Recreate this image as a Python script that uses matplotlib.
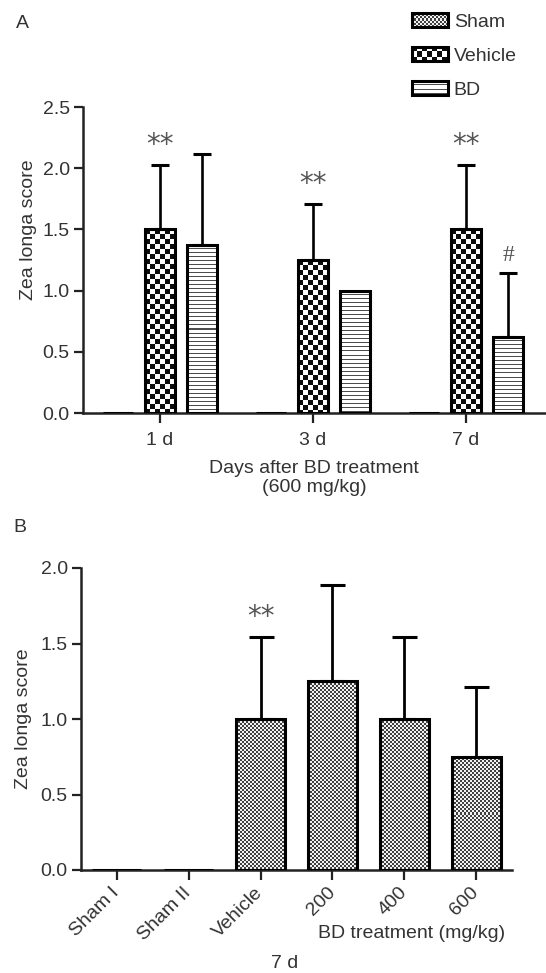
import numpy as np
import matplotlib
matplotlib.use("Agg")
import matplotlib.pyplot as plt
from matplotlib.patches import Patch, Rectangle
from matplotlib.legend_handler import HandlerBase
from matplotlib.image import BboxImage
from matplotlib.colors import Normalize
from matplotlib.transforms import Bbox, TransformedBbox

# ---- data (panel A) ----
days = ["1 d", "3 d", "7 d"]
groups_a = ["Sham", "Vehicle", "BD"]
sham_a = [0.0, 0.0, 0.0]
vehicle_a = [1.5, 1.25, 1.5]
vehicle_a_sd = [0.53, 0.46, 0.53]
bd_a = [1.375, 1.0, 0.625]
bd_a_sd = [0.74, 0.0, 0.52]

# ---- data (panel B, 7 d) ----
labels_b = ["Sham I", "Sham II", "Vehicle", "200", "400", "600"]
scores_b = [0.0, 0.0, 1.0, 1.25, 1.0, 0.75]
scores_b_sd = [0.0, 0.0, 0.54, 0.64, 0.54, 0.46]

plt.rcParams['font.family'] = ['Liberation Sans', 'DejaVu Sans']
plt.rcParams['font.size'] = 14
plt.rcParams['text.color'] = '#333333'
plt.rcParams['axes.labelcolor'] = '#333333'
plt.rcParams['xtick.color'] = '#222222'
plt.rcParams['ytick.color'] = '#222222'
plt.rcParams['xtick.labelcolor'] = '#333333'
plt.rcParams['ytick.labelcolor'] = '#333333'

W, H = 546, 973
DPI = 100
fig = plt.figure(figsize=(W / DPI, H / DPI), dpi=DPI)


def texture(kind, h, w):
    h, w = max(int(round(h)), 1), max(int(round(w)), 1)
    yy, xx = np.mgrid[0:h, 0:w]
    if kind == "fine":
        c = ((yy // 2 + xx // 2) % 2).astype(float)
        return np.where(c > 0, 0.95, 0.25)
    if kind == "coarse":
        c = ((yy // 5 + xx // 5) % 2).astype(float)
        return np.where(c > 0, 1.0, 0.05)
    # horizontal lines
    return np.where(yy % 4 == 0, 0.3, 1.0)


def fill_bars(ax, bars, kind):
    # paint the texture inside each bar (bars keep the black outline on top)
    for b in bars:
        x0, y0 = b.get_x(), b.get_y()
        x1, y1 = x0 + b.get_width(), y0 + b.get_height()
        if y1 <= y0:
            continue
        p0 = ax.transData.transform((x0, y0))
        p1 = ax.transData.transform((x1, y1))
        img = texture(kind, p1[1] - p0[1], p1[0] - p0[0])
        ax.imshow(img, cmap='gray', norm=Normalize(0, 1), extent=(x0, x1, y0, y1),
                  interpolation='nearest', aspect='auto', zorder=2)


class HandlerTexture(HandlerBase):
    def __init__(self, kind):
        super().__init__()
        self.kind = kind

    def create_artists(self, legend, orig_handle, xdescent, ydescent,
                       width, height, fontsize, trans):
        bb = TransformedBbox(Bbox.from_bounds(-xdescent, -ydescent, width, height), trans)
        dpi = legend.figure.dpi
        im = BboxImage(bb, cmap='gray', norm=Normalize(0, 1), interpolation='nearest')
        im.set_data(texture(self.kind, height * dpi / 72, width * dpi / 72))
        rect = Rectangle((-xdescent, -ydescent), width, height, facecolor='none',
                         edgecolor='black', linewidth=2.2, transform=trans)
        return [im, rect]


def style_axes(ax):
    for s in ("top", "right"):
        ax.spines[s].set_visible(False)
    for s in ("left", "bottom"):
        ax.spines[s].set_linewidth(1.8)
        ax.spines[s].set_color('#222222')
    ax.tick_params(axis='y', length=6.5, width=1.6, pad=3)
    ax.tick_params(axis='x', length=7.5, width=1.6)


# ---------------- Panel A ----------------
axA = fig.add_axes([83 / W, 1 - 413 / H, (545 - 83) / W, (413 - 107) / H])
x = np.arange(len(days))
bw = 0.196
off = 0.275
axA.set_xlim(-0.503, 2.516)
axA.set_ylim(0, 2.5)

bars_s = axA.bar(x - off, sham_a, bw, facecolor='none', edgecolor='black', linewidth=2.2, zorder=3)
bars_v = axA.bar(x, vehicle_a, bw, facecolor='none', edgecolor='black', linewidth=2.2, zorder=3)
bars_b = axA.bar(x + off, bd_a, bw, facecolor='none', edgecolor='black', linewidth=2.2, zorder=3)
fill_bars(axA, bars_v, "coarse")
fill_bars(axA, bars_b, "hlines")

for xs, m, sd in ((x, vehicle_a, vehicle_a_sd), (x + off, bd_a, bd_a_sd)):
    m, sd = np.array(m), np.array(sd)
    keep = sd > 0
    axA.errorbar(xs[keep], m[keep], yerr=[np.zeros(keep.sum()), sd[keep]], fmt='none',
                 ecolor='black', elinewidth=1.9, capsize=6.5, capthick=2.2, zorder=2.5)

for i in range(len(days)):
    axA.annotate("**", (x[i], vehicle_a[i] + vehicle_a_sd[i]), xytext=(0, 4),
                 textcoords='offset points', ha='center', va='bottom',
                 fontsize=20, color='#555555', family='DejaVu Sans')
axA.annotate("#", (x[2] + off, bd_a[2] + bd_a_sd[2]), xytext=(0, 5),
             textcoords='offset points', ha='center', va='bottom',
             fontsize=17, color='#555555', family='Liberation Serif')

axA.set_xticks(x)
axA.set_xticklabels(days)
axA.tick_params(axis='x', pad=6)
axA.set_yticks(np.arange(0, 2.51, 0.5))
axA.set_yticklabels([f"{v:.1f}" for v in np.arange(0, 2.51, 0.5)])
axA.set_ylabel("Zea longa score")
axA.yaxis.set_label_coords(-0.1, 0.6)
axA.set_xlabel("Days after BD treatment\n(600 mg/kg)", labelpad=8, linespacing=1.15)
style_axes(axA)

handles = [Patch(label=g) for g in groups_a]
kinds = ["fine", "coarse", "hlines"]
fig.legend(handles=handles, loc='upper left', bbox_to_anchor=(412 / W, 1 - 13 / H),
           frameon=False, borderpad=0, borderaxespad=0, handlelength=1.85,
           handleheight=0.75, handletextpad=0.3, labelspacing=0.82,
           handler_map={h: HandlerTexture(k) for h, k in zip(handles, kinds)})

fig.text(22 / W, 1 - 24 / H, "A", ha='center', va='center', fontsize=14)

# ---------------- Panel B ----------------
axB = fig.add_axes([81 / W, 1 - 870 / H, (512 - 81) / W, (870 - 568) / H])
xb = np.arange(len(labels_b))
axB.set_xlim(-0.5, 5.5)
axB.set_ylim(0, 2.0)
bars_bb = axB.bar(xb, scores_b, 0.68, facecolor='none', edgecolor='black', linewidth=2.2, zorder=3)
fill_bars(axB, bars_bb, "fine")
mb, sdb = np.array(scores_b), np.array(scores_b_sd)
keep = sdb > 0
axB.errorbar(xb[keep], mb[keep], yerr=[np.zeros(keep.sum()), sdb[keep]], fmt='none',
             ecolor='black', elinewidth=2.0, capsize=9, capthick=2.2, zorder=2.5)
axB.annotate("**", (xb[2], mb[2] + sdb[2]), xytext=(0, 5), textcoords='offset points',
             ha='center', va='bottom', fontsize=20, color='#555555', family='DejaVu Sans')

axB.set_xticks(xb)
axB.set_xticklabels(labels_b, rotation=45, ha='right', va='center', rotation_mode='anchor')
axB.set_yticks(np.arange(0, 2.01, 0.5))
axB.set_yticklabels([f"{v:.1f}" for v in np.arange(0, 2.01, 0.5)])
axB.set_ylabel("Zea longa score", labelpad=6)
style_axes(axB)
axB.tick_params(axis='x', pad=7)

fig.text(412 / W, 1 - 933 / H, "BD treatment (mg/kg)", ha='center', va='center')
fig.text(285 / W, 1 - 963 / H, "7 d", ha='center', va='center')
fig.text(20 / W, 1 - 528 / H, "B", ha='center', va='center', fontsize=14)

fig.savefig("out.png", dpi=DPI)
